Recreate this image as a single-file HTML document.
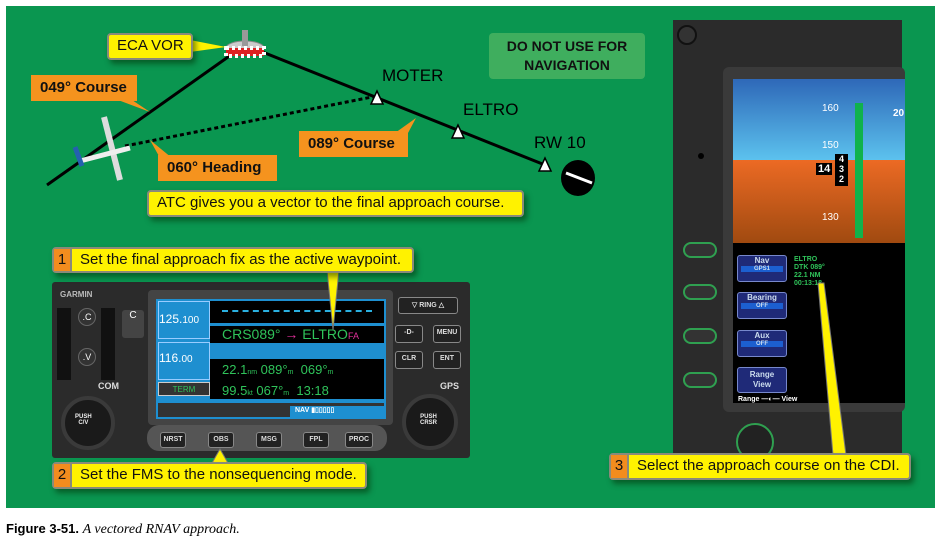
<!DOCTYPE html>
<html><head><meta charset="utf-8"><style>
*{margin:0;padding:0;box-sizing:border-box}
body{width:943px;height:544px;background:#fff;position:relative;overflow:hidden;font-family:"Liberation Sans",sans-serif}
.a{position:absolute}
.y{position:absolute;background:#fff200;border:2px solid #8a8a7a;border-radius:4px;color:#111;font-size:15px;line-height:22px;padding-left:8px;box-shadow:3px 4px 6px rgba(0,40,0,.5);white-space:nowrap}
.o{position:absolute;background:#f5931e;color:#111;font-weight:bold;font-size:15px;line-height:26px;padding-left:9px;white-space:nowrap}
.num{position:absolute;left:0;top:0;bottom:0;width:18px;background:#f28c1e;border-right:2px solid #8a8a7a;font-size:15px;text-align:center;padding-right:0}
.btn{position:absolute;background:#222;border:1px solid #888;border-radius:3px;color:#ddd;font-size:7px;font-weight:bold;text-align:center;line-height:14px}
.g{color:#2fc35a}
</style></head><body>
<div class="a" style="left:6px;top:6px;width:929px;height:502px;background:#0a9650"></div>

<svg class="a" style="left:0;top:0" width="943" height="544">
<line x1="47" y1="185" x2="245" y2="45" stroke="#000" stroke-width="3"/>
<polyline points="245,45 545,165" fill="none" stroke="#000" stroke-width="3"/>
<line x1="125" y1="146" x2="377" y2="96" stroke="#000" stroke-width="3" stroke-dasharray="4,3"/>
<polygon points="377,91 371,104 383,104" fill="#fff" stroke="#000" stroke-width="1.5"/>
<polygon points="458,125 452,138 464,138" fill="#fff" stroke="#000" stroke-width="1.5"/>
<polygon points="545,158 539,171 551,171" fill="#fff" stroke="#000" stroke-width="1.5"/>
<ellipse cx="578" cy="178" rx="17" ry="18" fill="#000"/>
<line x1="566" y1="173" x2="592" y2="183" stroke="#fff" stroke-width="3"/>
<!-- VOR -->
<ellipse cx="245" cy="48" rx="19" ry="7" fill="#ccc" stroke="#888"/>
<rect x="226" y="48" width="38" height="8" fill="#d22"/>
<rect x="226" y="48" width="38" height="8" fill="none" stroke="#fff" stroke-dasharray="3,3" stroke-width="4"/>
<rect x="242" y="30" width="6" height="16" fill="#999"/>
<!-- plane -->
<line x1="104" y1="117" x2="120" y2="180" stroke="#ddd" stroke-width="6"/>
<line x1="80" y1="161" x2="130" y2="148" stroke="#eee" stroke-width="5"/>
<line x1="75" y1="147" x2="82" y2="166" stroke="#2460b0" stroke-width="5"/>
<!-- pointers -->
<polygon points="190,40 190,52 226,47" fill="#fff200"/>
<polygon points="118,100 132,100 150,112" fill="#f5931e"/>
<polygon points="160,158 172,158 150,140" fill="#f5931e"/>
<polygon points="395,133 408,133 416,118" fill="#f5931e"/>
</svg>

<div class="y" style="left:107px;top:33px;width:86px;height:27px;font-size:15px">ECA VOR</div>
<div class="o" style="left:31px;top:75px;width:106px">049° Course</div>
<div class="o" style="left:158px;top:155px;width:119px">060° Heading</div>
<div class="o" style="left:299px;top:131px;width:109px">089° Course</div>
<div class="a" style="left:382px;top:66px;font-size:17px">MOTER</div>
<div class="a" style="left:463px;top:100px;font-size:17px">ELTRO</div>
<div class="a" style="left:534px;top:133px;font-size:17px">RW 10</div>
<div class="a" style="left:489px;top:33px;width:156px;height:46px;background:#3fae5e;border-radius:4px;text-align:center;font-weight:bold;font-size:14px;line-height:19px;padding-top:4px;color:#111">DO NOT USE FOR<br>NAVIGATION</div>
<div class="y" style="left:147px;top:190px;width:377px;height:27px">ATC gives you a vector to the final approach course.</div>

<!-- Garmin unit -->
<div class="a" style="left:52px;top:282px;width:418px;height:176px;background:#2b2b2b;border-radius:3px"></div>
<div class="a" style="left:60px;top:290px;color:#bbb;font-size:8px;font-weight:bold">GARMIN</div>
<div class="a" style="left:57px;top:308px;width:14px;height:72px;background:#111"></div>
<div class="a" style="left:101px;top:308px;width:14px;height:72px;background:#111"></div>
<div class="a" style="left:78px;top:308px;width:18px;height:18px;border-radius:50%;background:#333;border:1px solid #666;color:#fff;font-size:9px;text-align:center;line-height:16px">.C</div>
<div class="a" style="left:78px;top:348px;width:18px;height:18px;border-radius:50%;background:#333;border:1px solid #666;color:#fff;font-size:9px;text-align:center;line-height:16px">.V</div>
<div class="a" style="left:122px;top:310px;width:22px;height:28px;background:#444;border-radius:3px;color:#fff;font-size:10px;text-align:center">C</div>
<div class="a" style="left:98px;top:381px;color:#ddd;font-size:9px;font-weight:bold">COM</div>
<div class="a" style="left:61px;top:396px;width:54px;height:54px;border-radius:50%;background:#1a1a1a;border:4px solid #3a3a3a"></div>
<div class="a" style="left:75px;top:414px;color:#eee;font-size:6px;font-weight:bold;text-align:center">PUSH<br>C/V</div>
<div class="a" style="left:148px;top:290px;width:245px;height:135px;background:#444;border-radius:4px"></div>
<div class="a" style="left:156px;top:299px;width:230px;height:120px;background:#1e8fd0"></div>
<div class="a" style="left:158px;top:301px;width:52px;height:38px;border:1px solid #9cf;color:#fff;font-size:12px;padding-top:10px">125.<small>100</small></div>
<div class="a" style="left:158px;top:342px;width:52px;height:38px;border:1px solid #9cf;color:#fff;font-size:12px;padding-top:8px">116.<small>00</small></div>
<div class="a" style="left:158px;top:382px;width:52px;height:14px;background:#333;color:#2fc35a;font-size:8px;text-align:center;line-height:14px;border:1px solid #ccc">TERM</div>
<div class="a" style="left:210px;top:301px;width:174px;height:22px;background:#000"></div>
<div class="a" style="left:222px;top:310px;width:150px;border-top:2px dashed #2ab0e0"></div>
<div class="a" style="left:210px;top:326px;width:174px;height:17px;background:#000;color:#2fc35a;font-size:14px;line-height:17px;padding-left:12px">CRS089° <span style="color:#e0309a">→</span> ELTRO<small style="color:#e0309a;font-size:9px">FA</small></div>
<div class="a" style="left:210px;top:359px;width:174px;height:40px;background:#000;color:#2fc35a;font-size:13px;line-height:18px;padding:2px 0 0 12px">22.1<small style="font-size:7px">nm</small> 089°<small style="font-size:7px">m</small> &nbsp;069°<small style="font-size:7px">m</small><br>99.5<small style="font-size:7px">kt</small> 067°<small style="font-size:7px">m</small> &nbsp;13:18</div>
<div class="a" style="left:158px;top:403px;width:226px;height:14px;background:#333"></div>
<div class="a" style="left:290px;top:406px;width:94px;height:12px;background:#1e8fd0;color:#fff;font-size:7px;font-weight:bold;padding-left:5px">NAV ▮▯▯▯▯▯</div>
<div class="a" style="left:147px;top:425px;width:240px;height:26px;background:#555;border-radius:12px"></div>
<div class="btn" style="left:160px;top:432px;width:26px">NRST</div>
<div class="btn" style="left:208px;top:432px;width:26px">OBS</div>
<div class="btn" style="left:256px;top:432px;width:26px">MSG</div>
<div class="btn" style="left:303px;top:432px;width:26px">FPL</div>
<div class="btn" style="left:345px;top:432px;width:28px">PROC</div>
<div class="btn" style="left:398px;top:297px;width:60px;height:17px;line-height:15px">▽ RING △</div>
<div class="btn" style="left:395px;top:325px;width:28px;height:18px">-D-</div>
<div class="btn" style="left:433px;top:325px;width:28px;height:18px">MENU</div>
<div class="btn" style="left:395px;top:351px;width:28px;height:18px">CLR</div>
<div class="btn" style="left:433px;top:351px;width:28px;height:18px">ENT</div>
<div class="a" style="left:440px;top:381px;color:#ddd;font-size:9px;font-weight:bold">GPS</div>
<div class="a" style="left:402px;top:394px;width:56px;height:56px;border-radius:50%;background:#1a1a1a;border:4px solid #3a3a3a"></div>
<div class="a" style="left:420px;top:414px;color:#eee;font-size:6px;font-weight:bold;text-align:center">PUSH<br>CRSR</div>

<!-- right panel -->
<div class="a" style="left:673px;top:20px;width:229px;height:440px;background:#2b2b2b"></div>
<div class="a" style="left:677px;top:25px;width:20px;height:20px;border-radius:50%;background:#333;border:2px solid #111"></div>
<div class="a" style="left:723px;top:67px;width:182px;height:345px;background:#3a3a3a;border-radius:6px"></div>
<div class="a" style="left:733px;top:79px;width:172px;height:81px;background:linear-gradient(#2e68b8,#5cc2ee)"></div>
<div class="a" style="left:733px;top:160px;width:172px;height:83px;background:linear-gradient(#ec6a24,#a04a10)"></div>
<div class="a" style="left:733px;top:243px;width:172px;height:160px;background:#000"></div>
<div class="a" style="left:855px;top:103px;width:8px;height:135px;background:#10b24c"></div>
<div class="a" style="left:822px;top:103px;color:#fff;font-size:10px">160</div>
<div class="a" style="left:822px;top:140px;color:#fff;font-size:10px">150</div>
<div class="a" style="left:822px;top:212px;color:#fff;font-size:10px">130</div>
<div class="a" style="left:816px;top:163px;background:#000;color:#fff;font-size:11px;font-weight:bold;padding:0 2px">14</div>
<div class="a" style="left:835px;top:154px;width:13px;height:32px;background:#000;color:#fff;font-size:9px;font-weight:bold;text-align:center;line-height:10px">4<br>3<br>2</div>
<div class="a" style="left:893px;top:108px;color:#fff;font-size:10px;font-weight:bold">20</div>
<div class="a" style="left:737px;top:255px;width:50px;height:27px;background:#1f2a78;border:1px solid #7788cc;border-radius:3px;color:#cde;font-size:8px;font-weight:bold;text-align:center">Nav<div style="background:#1c5fd0;margin:1px 3px;font-size:6px">GPS1</div></div>
<div class="a" style="left:737px;top:292px;width:50px;height:27px;background:#1f2a78;border:1px solid #7788cc;border-radius:3px;color:#cde;font-size:8px;font-weight:bold;text-align:center">Bearing<div style="background:#1c5fd0;margin:1px 3px;font-size:6px">OFF</div></div>
<div class="a" style="left:737px;top:330px;width:50px;height:27px;background:#1f2a78;border:1px solid #7788cc;border-radius:3px;color:#cde;font-size:8px;font-weight:bold;text-align:center">Aux<div style="background:#1c5fd0;margin:1px 3px;font-size:6px">OFF</div></div>
<div class="a" style="left:737px;top:367px;width:50px;height:26px;background:#1f2a78;border:1px solid #7788cc;border-radius:3px;color:#cde;font-size:8px;font-weight:bold;text-align:center;line-height:10px;padding-top:2px">Range<br>View</div>
<div class="a" style="left:738px;top:396px;color:#fff;font-size:7px;font-weight:bold">Range —◐— View</div>
<div class="a g" style="left:794px;top:256px;font-size:7px;font-weight:bold;line-height:8px">ELTRO<br>DTK 089°<br>22.1 NM<br>00:13:18</div>
<div class="a" style="left:683px;top:242px;width:34px;height:16px;border-radius:8px;background:#333;border:2px solid #2fa050"></div>
<div class="a" style="left:683px;top:284px;width:34px;height:16px;border-radius:8px;background:#333;border:2px solid #2fa050"></div>
<div class="a" style="left:683px;top:328px;width:34px;height:16px;border-radius:8px;background:#333;border:2px solid #2fa050"></div>
<div class="a" style="left:683px;top:372px;width:34px;height:16px;border-radius:8px;background:#333;border:2px solid #2fa050"></div>
<div class="a" style="left:736px;top:423px;width:38px;height:38px;border-radius:50%;background:#222;border:2px solid #2fa050"></div>
<div class="a" style="left:698px;top:153px;width:6px;height:6px;border-radius:50%;background:#000"></div>

<svg class="a" style="left:0;top:0" width="943" height="544">
<polygon points="327,270 339,270 333,330" fill="#fff200" stroke="#777"/>
<polygon points="212,463 228,463 220,449" fill="#fff200" stroke="#777"/>
<polygon points="818,283 824,283 846,455 833,455" fill="#fff200" stroke="#777"/>
</svg>

<div class="y" style="left:52px;top:247px;width:362px;height:26px;padding-left:26px"><div class="num">1</div>Set the final approach fix as the active waypoint.</div>
<div class="y" style="left:52px;top:462px;width:315px;height:27px;padding-left:26px"><div class="num">2</div>Set the FMS to the nonsequencing mode.</div>
<div class="y" style="left:609px;top:453px;width:302px;height:27px;padding-left:26px"><div class="num">3</div>Select the approach course on the CDI.</div>

<div class="a" style="left:6px;top:521px;font-size:13px"><b>Figure 3-51.</b> <i style="font-family:'Liberation Serif',serif;font-size:14px">A vectored RNAV approach.</i></div>
</body></html>
